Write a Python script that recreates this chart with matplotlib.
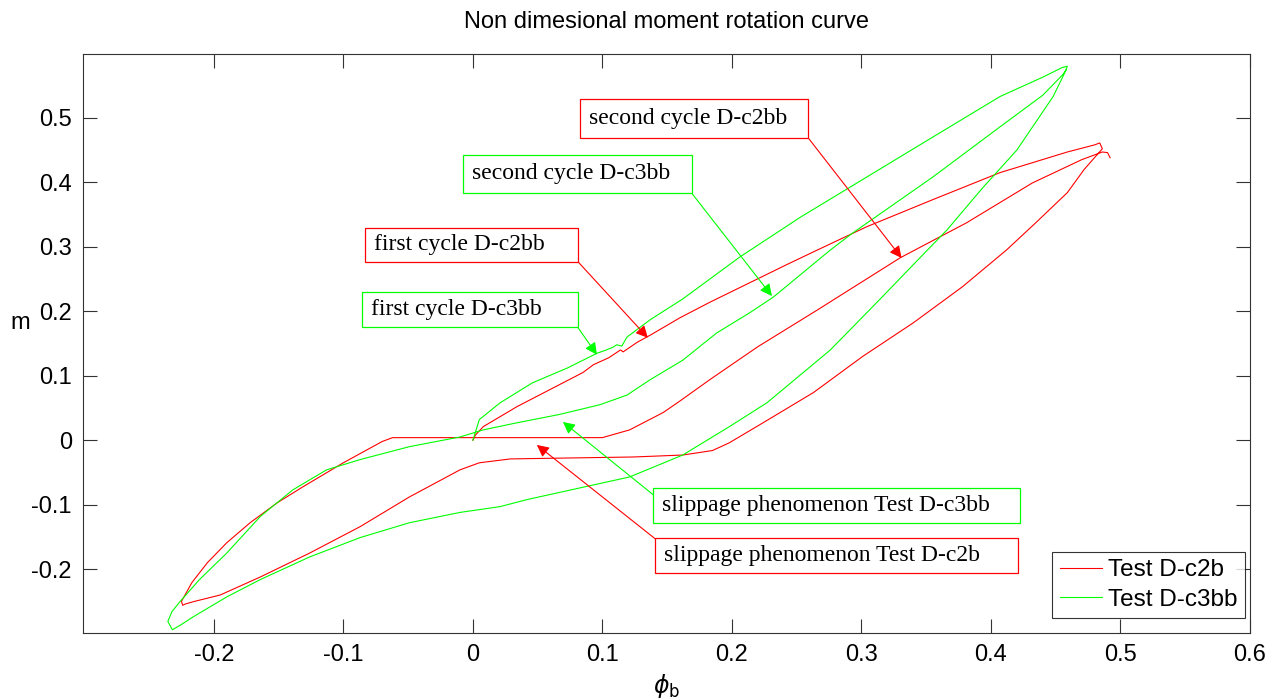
import numpy as np
import matplotlib
matplotlib.use("Agg")
import matplotlib.pyplot as plt
from matplotlib.patches import Rectangle

# ------------------------------------------------------------------
# Data (phi_b, m) - one continuous trace per test
# ------------------------------------------------------------------
# Test D-c2b: first loading, unloading to min, reloading (second cycle)
c2b_phi = [0.0, 0.002, 0.008, 0.034, 0.059, 0.085, 0.093, 0.105, 0.111, 0.114, 0.116,
           0.127, 0.137, 0.160, 0.183, 0.242, 0.266, 0.304, 0.355, 0.407, 0.459, 0.480, 0.484,
           0.486, 0.472, 0.459, 0.435, 0.412, 0.378, 0.340, 0.301, 0.263, 0.224, 0.198,
           0.185, 0.162, 0.124, 0.029, 0.005, -0.010, -0.049, -0.087, -0.126, -0.164,
           -0.195, -0.215, -0.222, -0.224, -0.225, -0.217, -0.205, -0.190, -0.172, -0.151,
           -0.131, -0.100, -0.070, -0.062, 0.000, 0.050, 0.100, 0.121, 0.147, 0.160, 0.183,
           0.220, 0.266, 0.330, 0.381, 0.432, 0.470, 0.486, 0.490, 0.492]
c2b_m = [0.000, 0.008, 0.021, 0.052, 0.078, 0.105, 0.117, 0.128, 0.136, 0.140, 0.137,
         0.152, 0.163, 0.190, 0.214, 0.272, 0.295, 0.331, 0.373, 0.415, 0.447, 0.458, 0.461,
         0.452, 0.420, 0.384, 0.338, 0.295, 0.238, 0.182, 0.130, 0.074, 0.027, -0.004,
         -0.016, -0.023, -0.026, -0.029, -0.035, -0.046, -0.088, -0.134, -0.175, -0.212,
         -0.240, -0.250, -0.254, -0.256, -0.250, -0.221, -0.190, -0.159, -0.128, -0.097,
         -0.072, -0.035, -0.002, 0.004, 0.004, 0.004, 0.004, 0.016, 0.043, 0.061, 0.094,
         0.145, 0.202, 0.283, 0.337, 0.399, 0.435, 0.447, 0.446, 0.438]

# Test D-c3bb
c3bb_phi = [0.0, 0.005, 0.021, 0.046, 0.073, 0.090, 0.096, 0.103, 0.108, 0.111, 0.115,
            0.117, 0.119, 0.137, 0.162, 0.206, 0.253, 0.304, 0.355, 0.407, 0.440, 0.455,
            0.459, 0.457, 0.448, 0.420, 0.393, 0.366, 0.351, 0.314, 0.276, 0.227, 0.198,
            0.162, 0.121, 0.042, 0.021, -0.010, -0.049, -0.087, -0.126, -0.164, -0.190,
            -0.216, -0.226, -0.232, -0.2355, -0.2324, -0.226, -0.211, -0.190, -0.164,
            -0.139, -0.113, -0.087, -0.049, -0.010, 0.008, 0.034, 0.067, 0.098, 0.119, 0.137,
            0.162, 0.188, 0.214, 0.232, 0.276, 0.293, 0.355, 0.407, 0.440, 0.455, 0.458]
c3bb_m = [0.000, 0.032, 0.058, 0.089, 0.112, 0.129, 0.135, 0.140, 0.144, 0.148, 0.146,
          0.153, 0.160, 0.187, 0.219, 0.284, 0.346, 0.408, 0.470, 0.533, 0.563, 0.578,
          0.580, 0.570, 0.533, 0.450, 0.390, 0.326, 0.295, 0.218, 0.140, 0.058, 0.021,
          -0.023, -0.057, -0.092, -0.103, -0.112, -0.128, -0.151, -0.181, -0.216, -0.243,
          -0.274, -0.287, -0.294, -0.281, -0.266, -0.250, -0.216, -0.175, -0.118,
          -0.077, -0.046, -0.030, -0.010, 0.005, 0.016, 0.027, 0.040, 0.055, 0.070, 0.094,
          0.124, 0.166, 0.198, 0.222, 0.295, 0.321, 0.408, 0.486, 0.535, 0.566, 0.574]

x_ticks = [-0.2, -0.1, 0.0, 0.1, 0.2, 0.3, 0.4, 0.5, 0.6]
x_tick_labels = ["-0.2", "-0.1", "0", "0.1", "0.2", "0.3", "0.4", "0.5", "0.6"]
y_ticks = [-0.2, -0.1, 0.0, 0.1, 0.2, 0.3, 0.4, 0.5]
y_tick_labels = ["-0.2", "-0.1", "0", "0.1", "0.2", "0.3", "0.4", "0.5"]

# annotations: text, colour, box (x0, x1, y0, y1), arrow start, arrow tip  (all in data units)
notes = [
    ("second cycle D-c2bb", "#ff0000", (0.0826, 0.2587, 0.4694, 0.5284), (0.2587, 0.4694), (0.331, 0.2826)),
    ("second cycle D-c3bb", "#00ff00", (-0.0077, 0.1691, 0.3828, 0.4430), (0.1691, 0.3828), (0.2309, 0.2236)),
    ("first cycle D-c2bb", "#ff0000", (-0.0834, 0.0811, 0.2769, 0.3297), (0.0811, 0.2769), (0.1351, 0.1588)),
    ("first cycle D-c3bb", "#00ff00", (-0.0857, 0.0811, 0.1748, 0.2303), (0.0811, 0.1748), (0.0958, 0.1325)),
    ("slippage phenomenon Test D-c3bb", "#00ff00", (0.1390, 0.4224, -0.1279, -0.0736), (0.1390, -0.0842), (0.0695, 0.0284)),
    ("slippage phenomenon Test D-c2b", "#ff0000", (0.1405, 0.4208, -0.2054, -0.1511), (0.1421, -0.1550), (0.0494, -0.0073)),
]

# ------------------------------------------------------------------
# Figure
# ------------------------------------------------------------------
plt.rcParams['font.family'] = ['Liberation Sans', 'DejaVu Sans']
fig = plt.figure(figsize=(12.81, 7.0), dpi=100)
ax = fig.add_axes([0.0648, 0.0957, 0.9110, 0.8272])

ax.plot(c2b_phi, c2b_m, color="#ff0000", lw=0.8, label="Test D-c2b")
ax.plot(c3bb_phi, c3bb_m, color="#00ff00", lw=0.8, label="Test D-c3bb")

ax.set_xlim(-0.301, 0.6)
ax.set_ylim(-0.299, 0.599)
ax.set_xticks(x_ticks)
ax.set_xticklabels(x_tick_labels)
ax.set_yticks(y_ticks)
ax.set_yticklabels(y_tick_labels)
ax.tick_params(direction="in", length=10, width=0.8, labelsize=17,
               top=True, right=True, pad=8, color="#333333")
for s in ax.spines.values():
    s.set_linewidth(0.8)
    s.set_color("#333333")

ax.set_title("Non dimesional moment rotation curve", fontsize=17, pad=19)
ax.set_xlabel(r"$\phi_{\rm b}$", fontsize=17, labelpad=4)
ax.set_ylabel("m", fontsize=17, rotation=0, ha="center", va="center")
ax.yaxis.set_label_coords(-0.054, 0.535)

# text boxes with arrows
for txt, col, (x0, x1, y0, y1), start, tip in notes:
    ax.add_patch(Rectangle((x0, y0), x1 - x0, y1 - y0, facecolor="white",
                           edgecolor=col, lw=0.9, zorder=4))
    ax.text(x0 + 0.007, (y0 + y1) / 2, txt, ha="left", va="center", fontsize=17,
            family=["Liberation Serif", "DejaVu Serif"], zorder=5)
    ax.annotate("", xy=tip, xytext=start,
                arrowprops=dict(arrowstyle="-|>", color=col, lw=0.8,
                                mutation_scale=18, shrinkA=0, shrinkB=0))

leg = ax.legend(loc="lower right", bbox_to_anchor=(0.9957, 0.026), fontsize=17.5,
                frameon=True, fancybox=False, edgecolor="black", handlelength=1.75,
                handletextpad=0.25, borderpad=0.3, labelspacing=0.3, borderaxespad=0)
leg.get_frame().set_linewidth(0.8)

fig.savefig("out.png", dpi=100)
